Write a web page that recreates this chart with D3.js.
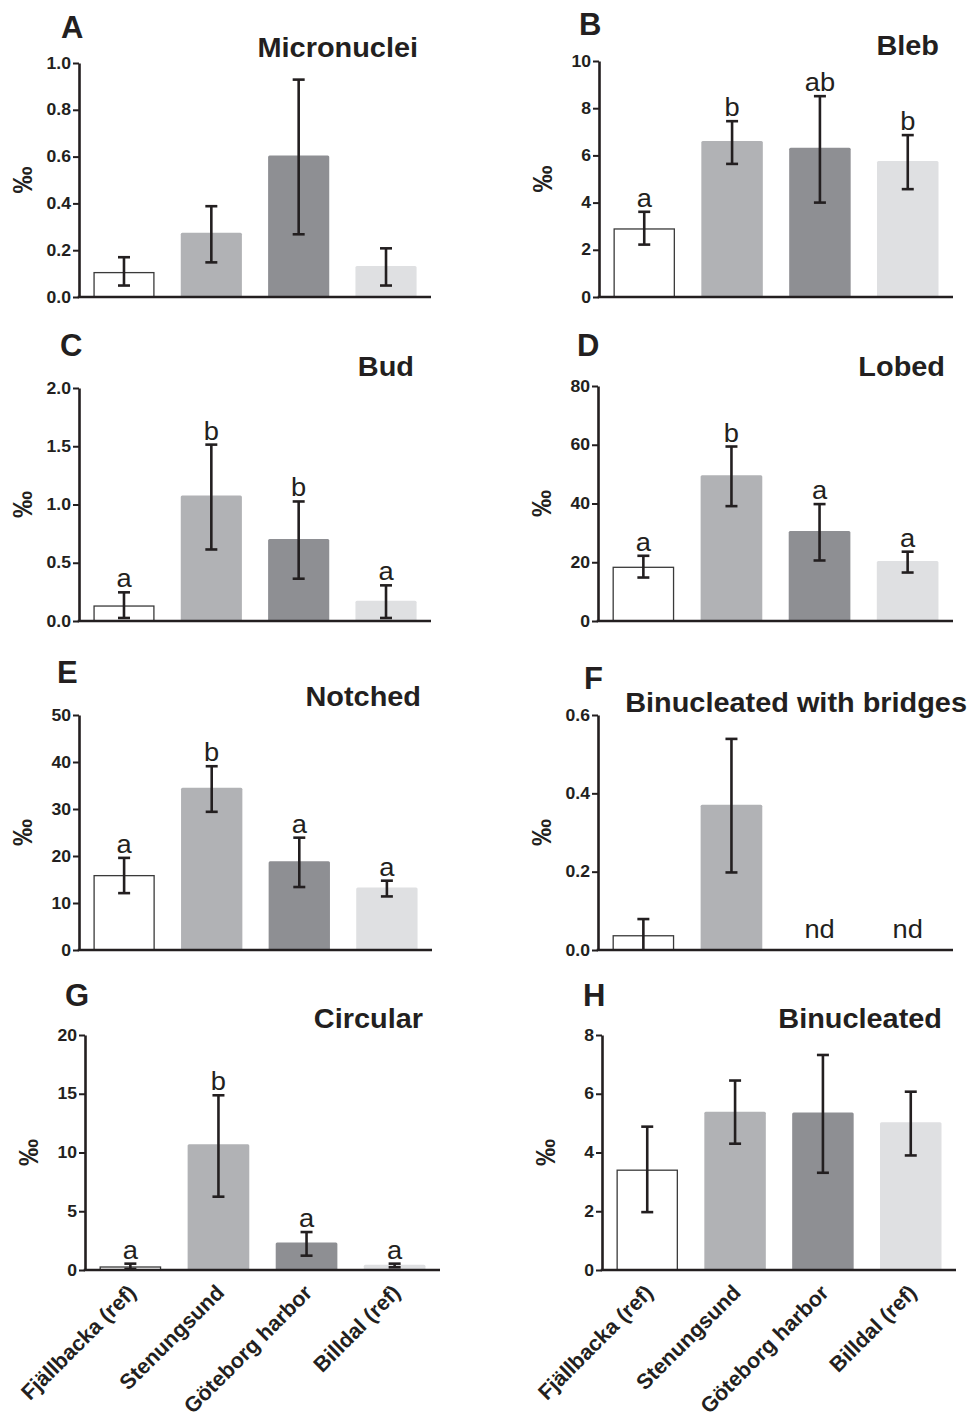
<!DOCTYPE html>
<html><head><meta charset="utf-8">
<script src="https://cdn.jsdelivr.net/npm/d3@7"></script>
<style>
body{margin:0;background:#fff}
svg{display:block}
text{font-family:Arial,"Liberation Sans",Helvetica,sans-serif}
</style>
</head><body>
<svg id="c" width="969" height="1419"></svg>
<script>
// ---------- data ----------
const sites = ["Fjällbacka (ref)", "Stenungsund", "Göteborg harbor", "Billdal (ref)"];
const barColors = ["#ffffff", "#b1b2b5", "#8e8f93", "#dfe0e2"];

const micronucleiMean = [0.107, 0.275, 0.605, 0.133];
const micronucleiLow  = [0.049, 0.148, 0.268, 0.049];
const micronucleiHigh = [0.170, 0.388, 0.929, 0.208];
const micronucleiSig  = ["", "", "", ""];
const micronucleiTicks = [0, 0.2, 0.4, 0.6, 0.8, 1.0];

const blebMean = [2.91, 6.61, 6.32, 5.76];
const blebLow  = [2.22, 5.64, 4.00, 4.57];
const blebHigh = [3.61, 7.45, 8.51, 6.86];
const blebSig  = ["a", "b", "ab", "b"];
const blebTicks = [0, 2, 4, 6, 8, 10];

const budMean = [0.134, 1.077, 0.703, 0.174];
const budLow  = [0.026, 0.614, 0.363, 0.026];
const budHigh = [0.246, 1.514, 1.026, 0.306];
const budSig  = ["a", "b", "b", "a"];
const budTicks = [0, 0.5, 1.0, 1.5, 2.0];

const lobedMean = [18.5, 49.6, 30.6, 20.4];
const lobedLow  = [14.8, 39.1, 20.6, 16.5];
const lobedHigh = [22.2, 59.4, 39.8, 23.6];
const lobedSig  = ["a", "b", "a", "a"];
const lobedTicks = [0, 20, 40, 60, 80];

const notchedMean = [15.96, 34.5, 18.9, 13.3];
const notchedLow  = [12.1, 29.4, 13.4, 11.4];
const notchedHigh = [19.6, 39.1, 23.9, 14.75];
const notchedSig  = ["a", "b", "a", "a"];
const notchedTicks = [0, 10, 20, 30, 40, 50];

const bridgesMean = [0.038, 0.371, null, null];
const bridgesLow  = [0.0, 0.198, null, null];
const bridgesHigh = [0.079, 0.539, null, null];
const bridgesSig  = ["", "", "nd", "nd"];
const bridgesTicks = [0, 0.2, 0.4, 0.6];

const circularMean = [0.31, 10.7, 2.33, 0.45];
const circularLow  = [0.09, 6.24, 1.22, 0.23];
const circularHigh = [0.54, 14.87, 3.23, 0.54];
const circularSig  = ["a", "b", "a", "a"];
const circularTicks = [0, 5, 10, 15, 20];

const binucMean = [3.42, 5.39, 5.36, 5.03];
const binucLow  = [1.97, 4.30, 3.31, 3.90];
const binucHigh = [4.88, 6.45, 7.32, 6.07];
const binucSig  = ["", "", "", ""];
const binucTicks = [0, 2, 4, 6, 8];

// ---------- layout ----------
const panels = [
  {letter:"A", title:"Micronuclei", mean:micronucleiMean, low:micronucleiLow, high:micronucleiHigh, sig:micronucleiSig, ticks:micronucleiTicks, fmt:d3.format(".1f"),
   x0:79, x1:431, yT:63, yB:297, lx:61, ly:38, tx:418, ty:57, xlab:false},
  {letter:"B", title:"Bleb", mean:blebMean, low:blebLow, high:blebHigh, sig:blebSig, ticks:blebTicks, fmt:d3.format("d"),
   x0:599, x1:953, yT:61, yB:297, lx:579, ly:35, tx:939, ty:55, xlab:false},
  {letter:"C", title:"Bud", mean:budMean, low:budLow, high:budHigh, sig:budSig, ticks:budTicks, fmt:d3.format(".1f"),
   x0:79, x1:431, yT:388, yB:621, lx:60, ly:356, tx:414, ty:376, xlab:false},
  {letter:"D", title:"Lobed", mean:lobedMean, low:lobedLow, high:lobedHigh, sig:lobedSig, ticks:lobedTicks, fmt:d3.format("d"),
   x0:598, x1:953, yT:386, yB:621, lx:577, ly:356, tx:945, ty:376, xlab:false},
  {letter:"E", title:"Notched", mean:notchedMean, low:notchedLow, high:notchedHigh, sig:notchedSig, ticks:notchedTicks, fmt:d3.format("d"),
   x0:79, x1:432, yT:715, yB:950, lx:57, ly:683, tx:421, ty:706, xlab:false},
  {letter:"F", title:"Binucleated with bridges", mean:bridgesMean, low:bridgesLow, high:bridgesHigh, sig:bridgesSig, ticks:bridgesTicks, fmt:d3.format(".1f"),
   x0:598, x1:953, yT:715, yB:950, lx:584, ly:689, tx:967, ty:712, xlab:false},
  {letter:"G", title:"Circular", mean:circularMean, low:circularLow, high:circularHigh, sig:circularSig, ticks:circularTicks, fmt:d3.format("d"),
   x0:85, x1:440, yT:1035, yB:1270, lx:65, ly:1006, tx:423, ty:1028, xlab:true},
  {letter:"H", title:"Binucleated", mean:binucMean, low:binucLow, high:binucHigh, sig:binucSig, ticks:binucTicks, fmt:d3.format("d"),
   x0:602, x1:956, yT:1035, yB:1270, lx:583, ly:1006, tx:942, ty:1028, xlab:true}
];

const ink = "#231f20";
const svg = d3.select("#c");
const wide = 1.1;

panels.forEach(p => {
  const g = svg.append("g");
  const x = d3.scaleBand().domain(sites).range([p.x0, p.x1]).paddingInner(0.30).paddingOuter(0.165);
  const y = d3.scaleLinear().domain([0, p.ticks[p.ticks.length - 1]]).range([p.yB, p.yT]);

  // bars
  sites.forEach((s, i) => {
    if (p.mean[i] == null) return;
    const r = g.append("rect")
      .attr("x", x(s)).attr("width", x.bandwidth())
      .attr("y", y(p.mean[i])).attr("height", y(0) - y(p.mean[i]))
      .attr("fill", barColors[i]);
    if (i === 0) r.attr("stroke", "#3a3a3a").attr("stroke-width", 1.3)
      .attr("x", x(s) + 0.65).attr("width", x.bandwidth() - 1.3)
      .attr("y", y(p.mean[i]) + 0.65).attr("height", y(0) - y(p.mean[i]) - 0.65);
    else r.attr("rx", 1.5);
  });

  // error bars
  const cap = 6;
  sites.forEach((s, i) => {
    if (p.mean[i] == null) return;
    const cx = x(s) + x.bandwidth() / 2;
    const eg = g.append("g").attr("stroke", ink).attr("stroke-width", 2.6).attr("fill", "none");
    eg.append("line").attr("x1", cx).attr("x2", cx).attr("y1", y(p.low[i])).attr("y2", y(p.high[i]));
    eg.append("line").attr("x1", cx - cap).attr("x2", cx + cap).attr("y1", y(p.high[i])).attr("y2", y(p.high[i]));
    if (p.low[i] > 0)
      eg.append("line").attr("x1", cx - cap).attr("x2", cx + cap).attr("y1", y(p.low[i])).attr("y2", y(p.low[i]));
  });

  // significance letters / nd
  sites.forEach((s, i) => {
    const t = p.sig[i];
    if (!t) return;
    const cx = x(s) + x.bandwidth() / 2;
    const yy = p.mean[i] == null ? y(0) - 12 : y(p.high[i]) - 5;
    g.append("text").attr("transform", `translate(${cx},${yy}) scale(1.05,1)`).attr("text-anchor", "middle")
      .style("font-size", "26px").attr("fill", ink).text(t);
  });

  // axes
  const ya = d3.axisLeft(y).tickValues(p.ticks).tickFormat(p.fmt).tickSize(6).tickSizeOuter(0).tickPadding(2);
  const yg = g.append("g").attr("transform", `translate(${p.x0},0)`).call(ya);
  yg.attr("font-size", null).attr("font-family", null);
  yg.select(".domain").attr("stroke", ink).attr("stroke-width", 2.6);
  yg.selectAll(".tick line").attr("stroke", ink).attr("stroke-width", 2);
  yg.selectAll(".tick text").attr("fill", ink)
    .attr("x", -8 / wide).attr("transform", `scale(${wide},1)`)
    .style("font-size", "16px").style("font-weight", "bold")
    .style("font-family", "Arial, 'Liberation Sans', sans-serif");

  const xa = d3.axisBottom(x).tickSize(0).tickSizeOuter(0).tickFormat("");
  const xg = g.append("g").attr("transform", `translate(0,${p.yB})`).call(xa);
  xg.select(".domain").attr("stroke", ink).attr("stroke-width", 2.6).attr("d", `M${p.x0 - 1.3},0H${p.x1}`);

  // y label
  g.append("text").attr("transform", `translate(${p.x0 - 56},${(p.yT + p.yB) / 2}) rotate(-90)`)
    .attr("text-anchor", "middle").attr("dominant-baseline", "central")
    .style("font-size", "27px").style("font-weight", "bold").attr("fill", ink).text("‰");

  // panel letter and title
  g.append("text").attr("x", p.lx).attr("y", p.ly).style("font-size", "31px").style("font-weight", "bold")
    .attr("fill", ink).text(p.letter);
  g.append("text").attr("transform", `translate(${p.tx},${p.ty}) scale(1.07,1)`).attr("text-anchor", "end")
    .style("font-size", "27px").style("font-weight", "bold").attr("fill", ink).text(p.title);

  // x labels
  if (p.xlab) {
    sites.forEach(s => {
      const cx = x(s) + x.bandwidth() / 2;
      g.append("text").attr("transform", `translate(${cx + 7},${p.yB + 24}) rotate(-45)`)
        .attr("text-anchor", "end").style("font-size", "21.5px").style("font-weight", "bold")
        .attr("fill", ink).text(s);
    });
  }
});
</script>
</body></html>
